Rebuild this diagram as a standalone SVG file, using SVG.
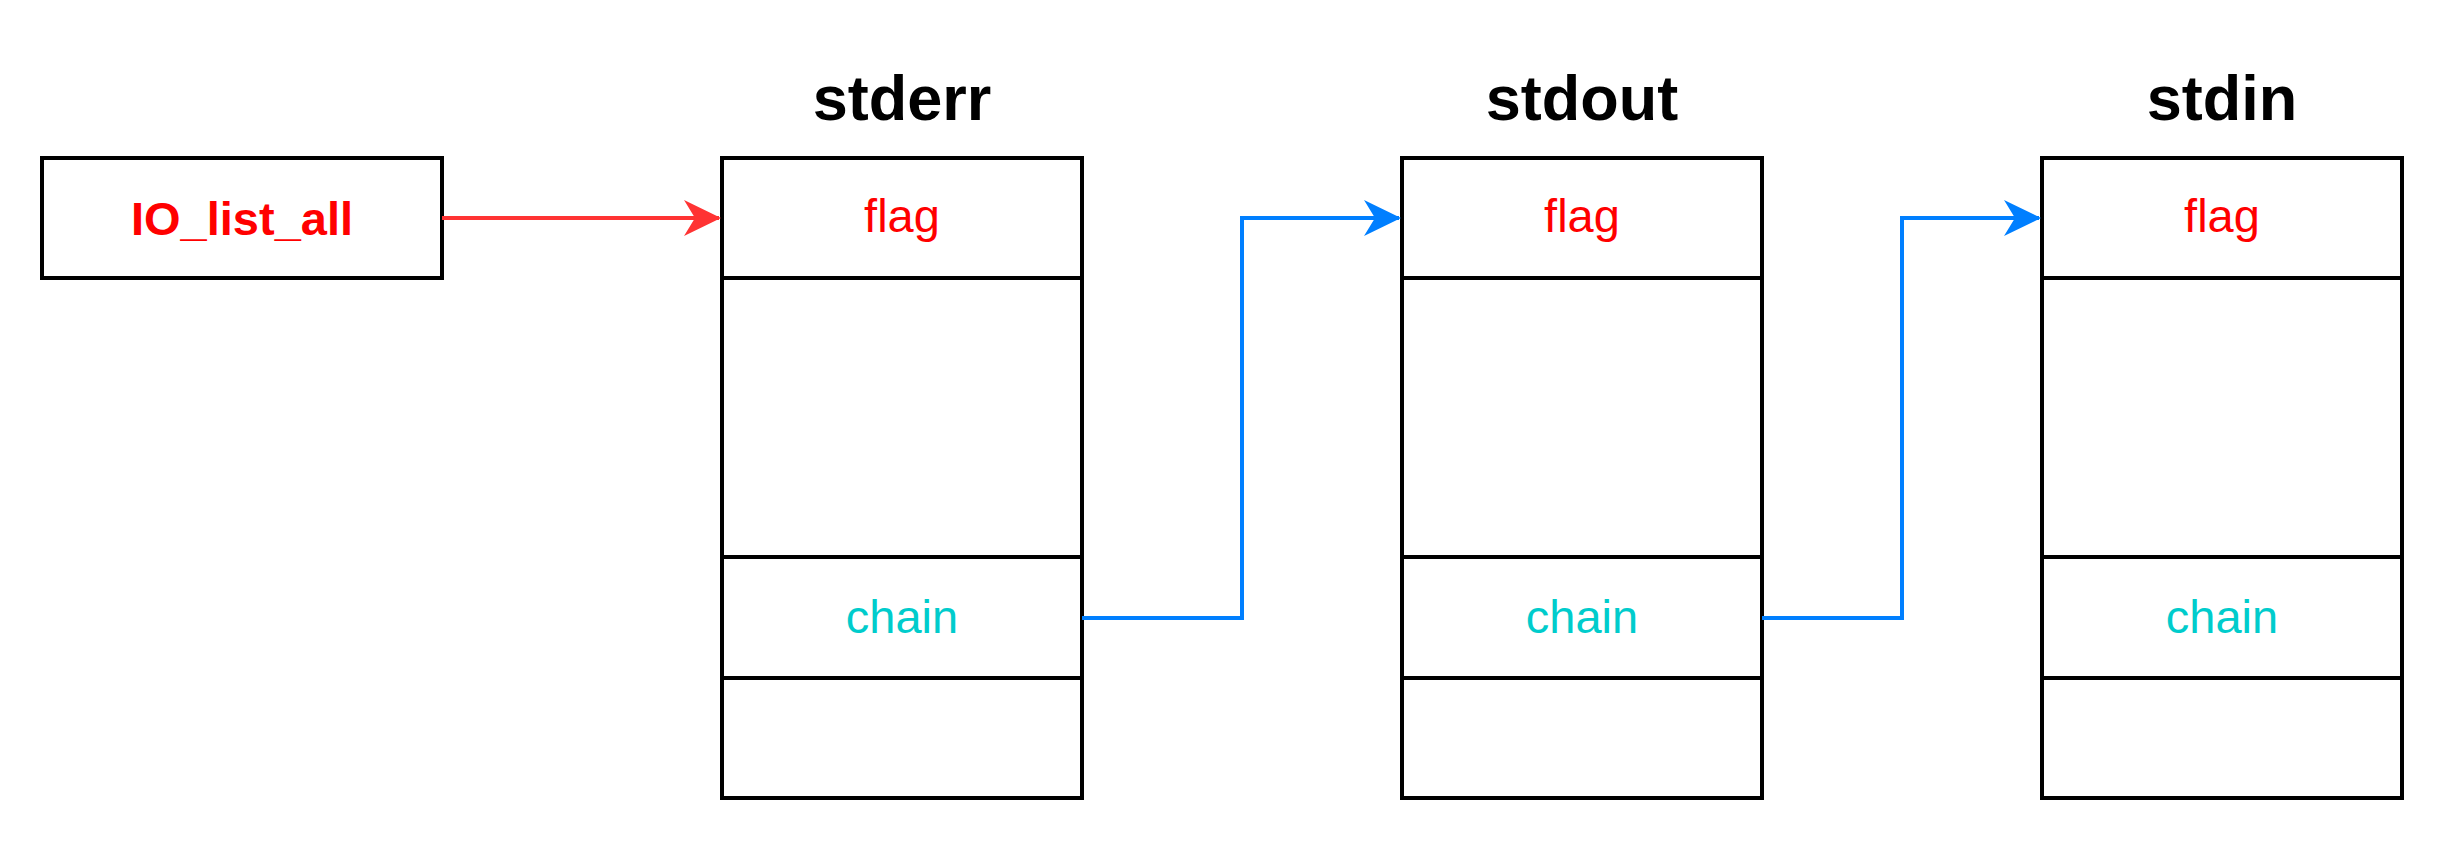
<svg xmlns="http://www.w3.org/2000/svg" width="2448" height="844" viewBox="0 0 2448 844">
<style>
.box{fill:#fff;stroke:#000;stroke-width:4}
.sep{stroke:#000;stroke-width:4}
.title{font-family:"Liberation Sans",Arial,sans-serif;font-weight:bold;font-size:63px;fill:#000;text-anchor:middle}
.flag{font-family:"Liberation Sans",Arial,sans-serif;font-size:47px;fill:#FF0000;text-anchor:middle}
.chain{font-family:"Liberation Sans",Arial,sans-serif;font-size:47px;fill:#00CCCC;text-anchor:middle}
.io{font-family:"Liberation Sans",Arial,sans-serif;font-weight:bold;font-size:47px;fill:#FF0000;text-anchor:middle}
.red{fill:none;stroke:#FF3333;stroke-width:4}
.blue{fill:none;stroke:#007FFF;stroke-width:4}
</style>
<defs>
<marker id="arrRed" markerUnits="userSpaceOnUse" markerWidth="40" markerHeight="40" refX="35" refY="18" orient="auto" overflow="visible">
<path d="M37,18 L0,0 L11,18 L0,36 Z" fill="#FF3333"/>
</marker>
<marker id="arrBlue" markerUnits="userSpaceOnUse" markerWidth="40" markerHeight="40" refX="35" refY="18" orient="auto" overflow="visible">
<path d="M37,18 L0,0 L11,18 L0,36 Z" fill="#007FFF"/>
</marker>
</defs>
<g id="io_list_all">
<rect class="box" x="42" y="158" width="400" height="120"/>
<text class="io" x="242" y="235">IO_list_all</text>
</g>
<g id="stderr">
<text class="title" x="902" y="120">stderr</text>
<rect class="box" x="722" y="158" width="360" height="640"/>
<line class="sep" x1="722" y1="278" x2="1082" y2="278"/>
<line class="sep" x1="722" y1="557" x2="1082" y2="557"/>
<line class="sep" x1="722" y1="678" x2="1082" y2="678"/>
<text class="flag" x="902" y="232">flag</text>
<text class="chain" x="902" y="633">chain</text>
</g>
<g id="stdout">
<text class="title" x="1582" y="120">stdout</text>
<rect class="box" x="1402" y="158" width="360" height="640"/>
<line class="sep" x1="1402" y1="278" x2="1762" y2="278"/>
<line class="sep" x1="1402" y1="557" x2="1762" y2="557"/>
<line class="sep" x1="1402" y1="678" x2="1762" y2="678"/>
<text class="flag" x="1582" y="232">flag</text>
<text class="chain" x="1582" y="633">chain</text>
</g>
<g id="stdin">
<text class="title" x="2222" y="120">stdin</text>
<rect class="box" x="2042" y="158" width="360" height="640"/>
<line class="sep" x1="2042" y1="278" x2="2402" y2="278"/>
<line class="sep" x1="2042" y1="557" x2="2402" y2="557"/>
<line class="sep" x1="2042" y1="678" x2="2402" y2="678"/>
<text class="flag" x="2222" y="232">flag</text>
<text class="chain" x="2222" y="633">chain</text>
</g>
<g id="connectors">
<path class="red" d="M442,218 L719,218" marker-end="url(#arrRed)"/>
<path class="blue" d="M1082,618 L1242,618 L1242,218 L1399,218" marker-end="url(#arrBlue)"/>
<path class="blue" d="M1762,618 L1902,618 L1902,218 L2039,218" marker-end="url(#arrBlue)"/>
</g>
</svg>
